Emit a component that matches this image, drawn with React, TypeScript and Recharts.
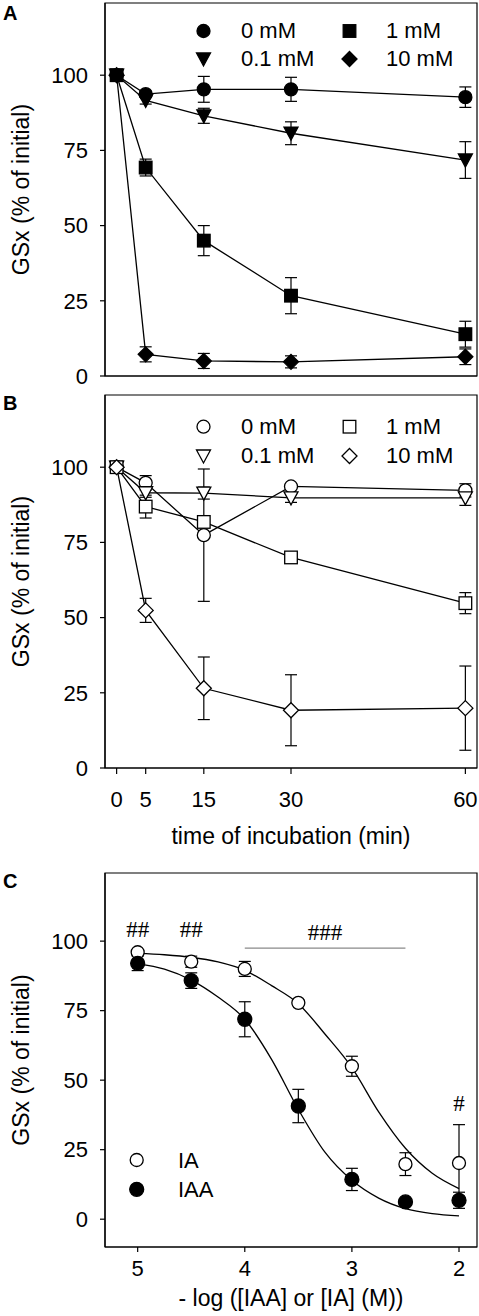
import React from 'react';
import {
  ComposedChart,
  Line,
  Scatter,
  XAxis,
  YAxis,
  ErrorBar,
  ReferenceArea,
  ReferenceLine,
  Legend,
} from 'recharts';

const FONT = '"Liberation Sans", Arial, Helvetica, sans-serif';
const SERIF = '"Liberation Serif", "Times New Roman", serif';

// ---------- data: panels A & B (time course) ----------
const timePoints = [0, 5, 15, 30, 60];
const timeTicks = [0, 5, 15, 30, 60];
const yTicks = [0, 25, 50, 75, 100];
const seriesNames = ['0 mM', '0.1 mM', '1 mM', '10 mM'];

const aMean0 = [100, 93.7, 95.3, 95.3, 92.7];
const aErr0 = [0.8, 1.0, 4.3, 4.0, 3.4];
const aMean01 = [100, 91.6, 86.5, 80.7, 71.8];
const aErr01 = [0.8, 1.2, 2.5, 3.8, 6.1];
const aMean1 = [100, 69.3, 45.0, 26.7, 13.9];
const aErr1 = [0.8, 2.8, 5.0, 6.0, 4.3];
const aMean10 = [100, 7.2, 5.0, 4.7, 6.4];
const aErr10 = [0.8, 2.5, 2.5, 2.0, 2.6];

const bMean0 = [100, 94.8, 77.4, 93.6, 92.3];
const bErr0 = [0.8, 2.4, 22.0, 1.0, 2.2];
const bMean01 = [100, 91.5, 91.4, 89.8, 89.8];
const bErr01 = [0.8, 1.5, 2.0, 1.5, 2.5];
const bMean1 = [100, 86.9, 81.8, 70.0, 54.8];
const bErr1 = [0.8, 3.8, 1.5, 1.0, 3.5];
const bMean10 = [100, 52.4, 26.5, 19.2, 19.9];
const bErr10 = [0.8, 4.0, 10.4, 11.8, 14.0];

// ---------- data: panel C (concentration response) ----------
const concX = [5, 4.5, 4, 3.5, 3, 2.5, 2];
const concTicks = [5, 4, 3, 2];
const iaMean = [96.0, 92.6, 90.0, 77.8, 55.0, 19.8, 20.2];
const iaErr = [1.0, 2.0, 2.7, 1.0, 3.6, 4.1, 13.8];
const iaaMean = [92.0, 85.8, 71.9, 40.7, 14.3, 6.2, 6.8];
const iaaErr = [2.6, 2.8, 6.3, 6.0, 4.0, 1.2, 2.9];

const curveX = [5.0, 4.75, 4.5, 4.25, 4.0, 3.75, 3.5, 3.25, 3.0, 2.75, 2.5, 2.25, 2.0];
const iaCurveY = [95.6, 95.1, 94.2, 92.5, 89.5, 84.0, 77.5, 66.5, 54.5, 38.6, 25.5, 16.5, 11.0];
const iaaCurveY = [91.9, 89.9, 86.0, 79.9, 71.9, 57.5, 39.5, 24.0, 14.0, 7.6, 3.8, 2.0, 1.2];

const annotX = [5, 4.5, 3.25, 2];
const annotY = [104.3, 104.3, 103.4, 41.9];
const annotText = ['##', '##', '###', '#'];
const barFrom = 4;
const barTo = 2.5;
const barY = 97.5;

// ---------- helpers ----------
const toTime = (means: number[], errs: number[]) =>
  timePoints.map((t, i) => ({ x: t, y: means[i], e: errs[i] }));
const toConc = (means: number[], errs: number[]) =>
  concX.map((x, i) => ({ x, y: means[i], e: errs[i] }));
const toCurve = (ys: number[]) => curveX.map((x, i) => ({ x, y: ys[i] }));

type Kind = 'circle' | 'triangle' | 'square' | 'diamond';

function Marker({ cx, cy, kind, filled, r = 6.5 }: { cx: number; cy: number; kind: Kind; filled: boolean; r?: number }) {
  if (cx == null || cy == null || isNaN(cx) || isNaN(cy)) return <g />;
  const fill = filled ? '#000' : '#fff';
  const sw = 1.3;
  if (kind === 'circle') return <circle cx={cx} cy={cy} r={r} fill={fill} stroke="#000" strokeWidth={sw} />;
  if (kind === 'triangle')
    return (
      <polygon
        points={`${cx - 7},${cy - 6} ${cx + 7},${cy - 6} ${cx},${cy + 7}`}
        fill={fill}
        stroke="#000"
        strokeWidth={sw}
        strokeLinejoin="miter"
      />
    );
  if (kind === 'square')
    return <rect x={cx - 6.3} y={cy - 6.3} width={12.6} height={12.6} fill={fill} stroke="#000" strokeWidth={sw} />;
  return (
    <polygon
      points={`${cx},${cy - 7.5} ${cx + 7.5},${cy} ${cx},${cy + 7.5} ${cx - 7.5},${cy}`}
      fill={fill}
      stroke="#000"
      strokeWidth={sw}
    />
  );
}

const kinds: Kind[] = ['circle', 'triangle', 'square', 'diamond'];

const axisStroke = { stroke: '#000', strokeWidth: 1.2 };
const tickStyle = { fill: '#000', fontSize: 22, fontFamily: FONT };

type LegendItem = { label: string; kind: Kind; filled: boolean; sx: number; sy: number; tx: number; ty: number; r?: number };

function Overlay({ width, height, letter, letterY, items }: { width: number; height: number; letter: string; letterY: number; items: LegendItem[] }) {
  return (
    <svg width={width} height={height} style={{ position: 'absolute', left: 0, top: 0, pointerEvents: 'none' }}>
      <text x={3} y={letterY} fontFamily={FONT} fontWeight="bold" fontSize={20} fill="#000">
        {letter}
      </text>
      {items.map((it, i) => (
        <g key={i}>
          <Marker cx={it.sx} cy={it.sy} kind={it.kind} filled={it.filled} r={it.r} />
          <text x={it.tx} y={it.ty} fontFamily={FONT} fontSize={22} fill="#000">
            {it.label}
          </text>
        </g>
      ))}
    </svg>
  );
}

function yLabel(text: string) {
  return (props: any) => {
    const vb = props.viewBox || {};
    const cy = (vb.y || 0) + (vb.height || 0) / 2;
    const bx = 28.5;
    return (
      <text
        x={bx}
        y={cy}
        transform={`rotate(-90, ${bx}, ${cy})`}
        textAnchor="middle"
        fontFamily={FONT}
        fontSize={23}
        fill="#000"
      >
        {text}
      </text>
    );
  };
}

function xLabel(text: string, offset: number) {
  return (props: any) => {
    const vb = props.viewBox || {};
    const cx = (vb.x || 0) + (vb.width || 0) / 2;
    return (
      <text x={cx} y={(vb.y || 0) + offset} textAnchor="middle" fontFamily={FONT} fontSize={23} fill="#000">
        {text}
      </text>
    );
  };
}

const W = 479;

function TimePanel({
  height,
  marginTop,
  xAxisHeight,
  series,
  filled,
  showLabels,
  letter,
  letterY,
  legendY,
  tickSize,
}: {
  height: number;
  marginTop: number;
  xAxisHeight: number;
  series: { x: number; y: number; e: number }[][];
  filled: boolean;
  showLabels: boolean;
  letter: string;
  letterY: number;
  legendY: [number, number, number, number];
  tickSize: number;
}) {
  const legendItems: LegendItem[] = seriesNames.map((name, i) => {
    const col = i === 0 || i === 1 ? 0 : 1;
    const row = i === 0 || i === 2 ? 0 : 1;
    return {
      label: name,
      kind: kinds[i],
      filled,
      sx: col === 0 ? 203.5 : 349.5,
      sy: legendY[row],
      tx: col === 0 ? 241 : 386,
      ty: legendY[row + 2],
    };
  });
  return (
    <ComposedChart width={W} height={height} margin={{ top: marginTop, right: 2, left: 0, bottom: 0 }}>
      <XAxis
        type="number"
        dataKey="x"
        domain={[-2, 62]}
        ticks={timeTicks}
        allowDataOverflow
        axisLine={axisStroke}
        tickLine={axisStroke}
        tickSize={tickSize}
        tickMargin={17}
        tick={showLabels ? tickStyle : false}
        height={xAxisHeight}
        label={showLabels ? xLabel('time of incubation (min)', 76) : undefined}
      />
      <YAxis
        type="number"
        dataKey="y"
        domain={[0, 124]}
        ticks={yTicks}
        allowDataOverflow
        axisLine={axisStroke}
        tickLine={axisStroke}
        tickSize={5}
        tickMargin={12}
        tick={tickStyle}
        width={105}
        label={yLabel('GSx (% of initial)')}
      />
      <ReferenceArea x1={-2} x2={62} y1={0} y2={124} fill="none" stroke="#000" strokeWidth={1.2} ifOverflow="visible" />
      {series.map((d, i) => (
        <Line
          key={seriesNames[i]}
          name={seriesNames[i]}
          data={d}
          dataKey="y"
          type="linear"
          stroke="#000"
          strokeWidth={1.3}
          isAnimationActive={false}
          dot={(p: any) => <Marker key={`m${i}-${p.index}`} cx={p.cx} cy={p.cy} kind={kinds[i]} filled={filled} />}
          activeDot={false}
        >
          <ErrorBar dataKey="e" direction="y" width={6} stroke="#000" strokeWidth={1.2} />
        </Line>
      ))}
      <Legend
        layout="horizontal"
        verticalAlign="middle"
        align="center"
        wrapperStyle={{ position: 'absolute', left: 0, top: 0, width: W, height, margin: 0, padding: 0 }}
        content={() => <Overlay width={W} height={height} letter={letter} letterY={letterY} items={legendItems} />}
      />
    </ComposedChart>
  );
}

function ConcPanel() {
  const height = 456;
  const ia = toConc(iaMean, iaErr);
  const iaa = toConc(iaaMean, iaaErr);
  const annots = annotX.map((x, i) => ({ x, y: annotY[i], label: annotText[i] }));
  const legendItems: LegendItem[] = [
    { label: 'IA', kind: 'circle', filled: false, sx: 136.7, sy: 300, tx: 178, ty: 308, r: 6.5 },
    { label: 'IAA', kind: 'circle', filled: true, sx: 136.7, sy: 329.3, tx: 178, ty: 336.5, r: 7 },
  ];
  return (
    <ComposedChart width={W} height={height} margin={{ top: 13, right: 2, left: 0, bottom: 0 }}>
      <XAxis
        type="number"
        dataKey="x"
        domain={[1.832, 5.305]}
        reversed
        ticks={concTicks}
        allowDataOverflow
        axisLine={axisStroke}
        tickLine={axisStroke}
        tickSize={5}
        tickMargin={8}
        tick={tickStyle}
        height={69}
        label={xLabel('- log ([IAA] or [IA] (M))', 59)}
      />
      <YAxis
        type="number"
        dataKey="y"
        domain={[-10, 124.5]}
        ticks={yTicks}
        allowDataOverflow
        axisLine={axisStroke}
        tickLine={axisStroke}
        tickSize={5}
        tickMargin={12}
        tick={tickStyle}
        width={105}
        label={yLabel('GSx (% of initial)')}
      />
      <ReferenceArea x1={1.832} x2={5.305} y1={-10} y2={124.5} fill="none" stroke="#000" strokeWidth={1.2} ifOverflow="visible" />
      <ReferenceLine
        segment={[
          { x: barFrom, y: barY },
          { x: barTo, y: barY },
        ]}
        stroke="#8a8a8a"
        strokeWidth={1.4}
      />
      <Line
        data={toCurve(iaCurveY)}
        dataKey="y"
        type="monotone"
        stroke="#000"
        strokeWidth={1.3}
        dot={false}
        activeDot={false}
        isAnimationActive={false}
        legendType="none"
      />
      <Line
        data={toCurve(iaaCurveY)}
        dataKey="y"
        type="monotone"
        stroke="#000"
        strokeWidth={1.3}
        dot={false}
        activeDot={false}
        isAnimationActive={false}
        legendType="none"
      />
      <Scatter
        name="IA"
        data={ia}
        dataKey="y"
        isAnimationActive={false}
        shape={(p: any) => <Marker cx={p.cx} cy={p.cy} kind="circle" filled={false} r={6.5} />}
      >
        <ErrorBar dataKey="e" direction="y" width={6} stroke="#000" strokeWidth={1.2} />
      </Scatter>
      <Scatter
        name="IAA"
        data={iaa}
        dataKey="y"
        isAnimationActive={false}
        shape={(p: any) => <Marker cx={p.cx} cy={p.cy} kind="circle" filled={true} r={7} />}
      >
        <ErrorBar dataKey="e" direction="y" width={6} stroke="#000" strokeWidth={1.2} />
      </Scatter>
      <Scatter
        data={annots}
        dataKey="y"
        isAnimationActive={false}
        legendType="none"
        shape={(p: any) => (
          <text x={p.cx} y={p.cy} dy="0.36em" textAnchor="middle" fontFamily={SERIF} fontSize={23} fill="#000">
            {p.payload.label}
          </text>
        )}
      />
      <Legend
        layout="horizontal"
        verticalAlign="middle"
        align="center"
        wrapperStyle={{ position: 'absolute', left: 0, top: 0, width: W, height, margin: 0, padding: 0 }}
        content={() => <Overlay width={W} height={height} letter="C" letterY={28} items={legendItems} />}
      />
    </ComposedChart>
  );
}

export default function App() {
  const aSeries = [toTime(aMean0, aErr0), toTime(aMean01, aErr01), toTime(aMean1, aErr1), toTime(aMean10, aErr10)];
  const bSeries = [toTime(bMean0, bErr0), toTime(bMean01, bErr01), toTime(bMean1, bErr1), toTime(bMean10, bErr10)];
  return (
    <div style={{ position: 'absolute', left: 0, top: 0, width: W, height: 1316, background: '#fff', overflow: 'hidden' }}>
      <div style={{ position: 'absolute', left: 0, top: 0 }}>
        <TimePanel
          height={392}
          marginTop={3}
          xAxisHeight={16}
          series={aSeries}
          filled={true}
          showLabels={false}
          letter="A"
          letterY={20}
          legendY={[31, 59, 38, 66]}
          tickSize={7}
        />
      </div>
      <div style={{ position: 'absolute', left: 0, top: 385 }}>
        <TimePanel
          height={470}
          marginTop={10}
          xAxisHeight={87}
          series={bSeries}
          filled={false}
          showLabels={true}
          letter="B"
          letterY={25}
          legendY={[41.7, 71, 49.3, 78.3]}
          tickSize={6}
        />
      </div>
      <div style={{ position: 'absolute', left: 0, top: 860 }}>
        <ConcPanel />
      </div>
    </div>
  );
}
